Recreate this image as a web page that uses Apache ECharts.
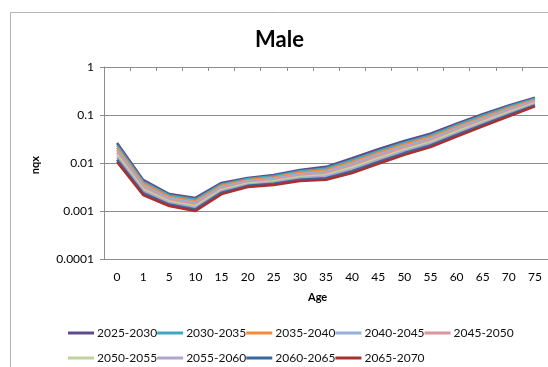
<!DOCTYPE html>
<html>
<head>
<meta charset="utf-8">
<script src="https://cdn.jsdelivr.net/npm/echarts@6/dist/echarts.min.js"></script>
<style>
  html, body { margin: 0; padding: 0; background: #fff; }
  #chart { width: 548px; height: 367px; }
</style>
</head>
<body>
<div id="chart"></div>
<script>
// Age groups (x categories)
const ages = ['0','1','5','10','15','20','25','30','35','40','45','50','55','60','65','70','75'];

// Log-axis tick labels
const yTickLabels = { 1: '1', 0.1: '0.1', 0.01: '0.01', 0.001: '0.001', 0.0001: '0.0001' };

// Projection periods
const periods = ['2025-2030','2030-2035','2035-2040','2040-2045','2045-2050',
                 '2050-2055','2055-2060','2060-2065','2065-2070'];

// Male probability of dying (nqx) by age group, one array per period
const q2025 = [0.0262, 0.00444, 0.00226, 0.00187, 0.00384, 0.00490, 0.00562, 0.00716, 0.00832, 0.0126, 0.0193, 0.0288, 0.0407, 0.0661, 0.1035, 0.159, 0.230];
const q2030 = [0.0233, 0.00405, 0.00211, 0.00173, 0.00359, 0.00464, 0.00529, 0.00670, 0.00769, 0.0115, 0.0177, 0.0265, 0.0376, 0.0611, 0.0963, 0.149, 0.218];
const q2035 = [0.0208, 0.00370, 0.00196, 0.00160, 0.00336, 0.00439, 0.00498, 0.00627, 0.00712, 0.0105, 0.0162, 0.0244, 0.0347, 0.0566, 0.0895, 0.139, 0.207];
const q2040 = [0.0186, 0.00338, 0.00182, 0.00148, 0.00314, 0.00416, 0.00469, 0.00586, 0.00659, 0.00963, 0.0149, 0.0225, 0.0320, 0.0523, 0.0833, 0.130, 0.197];
const q2045 = [0.0165, 0.00309, 0.00169, 0.00137, 0.00294, 0.00394, 0.00442, 0.00549, 0.00610, 0.00881, 0.0137, 0.0207, 0.0295, 0.0484, 0.0774, 0.122, 0.187];
const q2050 = [0.0148, 0.00282, 0.00158, 0.00126, 0.00275, 0.00373, 0.00416, 0.00513, 0.00564, 0.00806, 0.0125, 0.0190, 0.0272, 0.0448, 0.0720, 0.114, 0.177];
const q2055 = [0.0132, 0.00258, 0.00147, 0.00117, 0.00257, 0.00353, 0.00391, 0.00480, 0.00522, 0.00737, 0.0115, 0.0175, 0.0251, 0.0414, 0.0670, 0.107, 0.168];
const q2060 = [0.0117, 0.00235, 0.00136, 0.00108, 0.00241, 0.00334, 0.00368, 0.00449, 0.00483, 0.00674, 0.0105, 0.0161, 0.0232, 0.0383, 0.0623, 0.0998, 0.159];
const q2065 = [0.0105, 0.00215, 0.00127, 0.00100, 0.00225, 0.00316, 0.00347, 0.00421, 0.00447, 0.00617, 0.00966, 0.0148, 0.0214, 0.0355, 0.0579, 0.0933, 0.151];

const seriesValues = [q2025, q2030, q2035, q2040, q2045, q2050, q2055, q2060, q2065];
const colors = ['#5E4B8A', '#3FA7BD', '#F2893C', '#95B0DA', '#D9959A',
                '#BFD49A', '#B2A3CC', '#3A669C', '#A8312E'];

const FONT = 'Lato';

const legendCommon = {
  left: 68,
  padding: 0,
  itemWidth: 26, itemHeight: 3, itemGap: 0,
  icon: 'rect',
  textStyle: { fontFamily: FONT, fontSize: 12, color: '#111', padding: [0, 0, 0, -2] }
};

const chart = echarts.init(document.getElementById('chart'), null, { renderer: 'canvas' });

const option = {
  animation: false,
  backgroundColor: '#fff',
  color: colors,
  title: {
    text: 'Male',
    left: 250,
    top: 24,
    textStyle: { fontFamily: FONT, fontSize: 22, fontWeight: 'bold', color: '#000' }
  },
  grid: { left: 104, top: 67, width: 454, height: 192, containLabel: false },
  legend: [
    Object.assign({ data: periods.slice(0, 5), top: 327 }, legendCommon),
    Object.assign({ data: periods.slice(5), top: 352 }, legendCommon)
  ],
  xAxis: [
    {
      type: 'category',
      data: ages,
      position: 'bottom',
      boundaryGap: true,
      axisLine: { show: false },
      axisTick: { show: false },
      axisLabel: { margin: 12, fontFamily: FONT, fontSize: 12, color: '#000' }
    },
    {
      type: 'category',
      data: ages,
      position: 'top',
      boundaryGap: true,
      axisLine: { show: true, lineStyle: { color: '#8c8c8c', width: 1 } },
      axisTick: { show: true, inside: true, length: 4, lineStyle: { color: '#8c8c8c' } },
      axisLabel: { show: false }
    }
  ],
  yAxis: {
    type: 'log',
    logBase: 10,
    min: 0.0001,
    max: 1,
    axisLine: { show: true, lineStyle: { color: '#8c8c8c', width: 1 } },
    axisTick: { show: true, length: 4, lineStyle: { color: '#8c8c8c' } },
    splitLine: { show: true, lineStyle: { color: '#8c8c8c', width: 1 } },
    axisLabel: {
      margin: 10, fontFamily: FONT, fontSize: 12, color: '#000',
      formatter: v => {
        for (const k in yTickLabels) {
          if (Math.abs(Math.log10(v) - Math.log10(Number(k))) < 1e-6) return yTickLabels[k];
        }
        return '';
      }
    }
  },
  graphic: [
    {
      type: 'rect',
      shape: { x: 10.5, y: 12.5, width: 600, height: 400 },
      style: { fill: 'none', stroke: '#b4b4b4', lineWidth: 1 },
      silent: true, z: -1
    },
    {
      type: 'text',
      left: 30, top: 156,
      rotation: Math.PI / 2,
      style: { text: 'nqx', fontFamily: FONT, fontSize: 11, fontWeight: 'bold', fill: '#000' }
    },
    {
      type: 'text',
      left: 308, top: 292,
      style: { text: 'Age', fontFamily: FONT, fontSize: 11, fontWeight: 'bold', fill: '#000' }
    }
  ],
  series: periods.map((name, i) => ({
    name: name,
    type: 'line',
    xAxisIndex: 0,
    data: seriesValues[i],
    symbol: 'none',
    lineStyle: { width: 2.5, color: colors[i] },
    itemStyle: { color: colors[i] },
    z: 2 + i
  }))
};

chart.setOption(option);
</script>
</body>
</html>
